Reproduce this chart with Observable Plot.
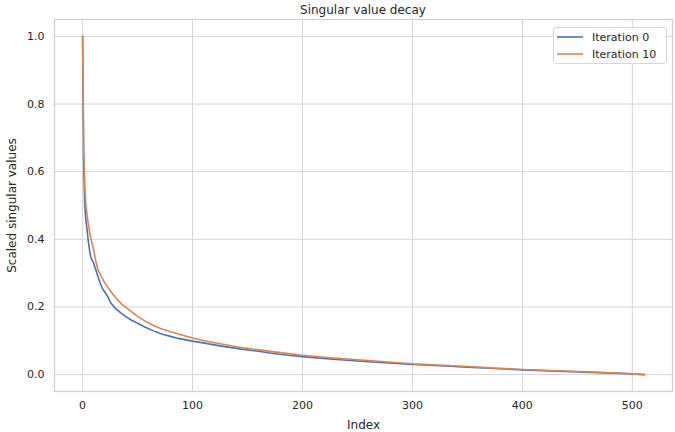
<!DOCTYPE html>
<html>
<head>
<meta charset="utf-8">
<script src="https://cdn.jsdelivr.net/npm/d3@7"></script>
<script src="https://cdn.jsdelivr.net/npm/@observablehq/plot@0.6"></script>
<style>
  html, body { margin: 0; padding: 0; background: #fff; }
  body { font-family: "DejaVu Sans", sans-serif; }
  #wrap { position: relative; width: 675px; height: 432px; }
  #title { height: 17px; line-height: 20px; font-size: 12px; color: #262626; text-align: center; margin-left: 54px; width: 618px; }
  #legend { position: absolute; left: 553px; top: 27px; width: 114px; height: 37px; box-sizing: border-box;
            border: 1px solid #d6d6d6; border-radius: 3px; background: rgba(255,255,255,0.85); font-size: 11px; color: #262626; }
  .entry { position: absolute; left: 3px; height: 14px; display: flex; align-items: center; }
  .entry svg { margin-right: 9px; }
</style>
</head>
<body>
<div id="wrap">
  <div id="title">Singular value decay</div>
  <div id="chart"></div>
  <div id="legend"></div>
</div>
<script>
const seriesNames = ["Iteration 0", "Iteration 10"];
const seriesColors = ["#4c72b0", "#dd8452"];

const iter0Index = [0,1,2,3,4,5,6,7,8,10,12,14,16,18,20,23,26,30,35,40,45,50,57,64,72,80,87,100,111,125,143,160,170,185,200,225,250,275,300,325,350,375,400,425,450,475,500,511];
const iter0Value = [1.0,0.62,0.50,0.455,0.43,0.40,0.375,0.355,0.342,0.33,0.31,0.29,0.27,0.255,0.245,0.23,0.21,0.195,0.182,0.17,0.16,0.152,0.14,0.13,0.12,0.113,0.107,0.099,0.093,0.085,0.076,0.069,0.064,0.058,0.053,0.046,0.040,0.035,0.030,0.026,0.022,0.018,0.014,0.011,0.008,0.005,0.002,0.0];

const iter10Index = [0,1,2,3,4,5,6,7,8,10,12,14,17,20,23,27,31,36,40,45,51,57,64,72,80,87,100,111,125,143,160,180,200,225,250,275,300,325,350,375,400,425,450,475,500,511];
const iter10Value = [1.0,0.66,0.56,0.50,0.475,0.45,0.43,0.41,0.396,0.37,0.335,0.31,0.29,0.272,0.258,0.24,0.224,0.207,0.197,0.185,0.17,0.158,0.146,0.135,0.127,0.12,0.108,0.10,0.091,0.081,0.073,0.065,0.057,0.05,0.044,0.038,0.032,0.028,0.024,0.019,0.015,0.012,0.009,0.006,0.002,0.0];

const xTicks = [0, 100, 200, 300, 400, 500];
const yTicks = [0.0, 0.2, 0.4, 0.6, 0.8, 1.0];

const data = [
  ...iter0Index.map((i, k) => ({index: i, value: iter0Value[k], series: seriesNames[0]})),
  ...iter10Index.map((i, k) => ({index: i, value: iter10Value[k], series: seriesNames[1]}))
];

const chart = Plot.plot({
  width: 675,
  height: 415,
  marginTop: 2,
  marginBottom: 41,
  marginLeft: 54,
  marginRight: 3,
  style: { fontFamily: "DejaVu Sans, sans-serif", fontSize: "11px", color: "#262626", background: "#fff" },
  x: { domain: [-25.55, 536.55] },
  y: { domain: [-0.05, 1.05] },
  color: { domain: seriesNames, range: seriesColors },
  marks: [
    Plot.gridX(xTicks, { stroke: "#d5d5d5", strokeOpacity: 1, strokeWidth: 1 }),
    Plot.gridY(yTicks, { stroke: "#d5d5d5", strokeOpacity: 1, strokeWidth: 1 }),
    Plot.frame({ stroke: "#d0d0d0", strokeWidth: 1.25 }),
    Plot.axisX(xTicks, { tickSize: 0, tickPadding: 10, label: "Index", labelAnchor: "center", labelArrow: "none", labelOffset: 37, fontSize: 11 }),
    Plot.axisY(yTicks, { tickSize: 0, tickPadding: 10, tickFormat: d => d.toFixed(1), label: "Scaled singular values", labelAnchor: "center", labelArrow: "none", labelOffset: 47, fontSize: 11 }),
    Plot.line(data, { x: "index", y: "value", stroke: "series", z: "series", strokeWidth: 1.6 })
  ]
});
d3.select(chart).selectAll("[aria-label$='axis label'] text, [aria-label$='axis label']").style("font-size", "12px");
document.getElementById("chart").appendChild(chart);

const legend = document.getElementById("legend");
seriesNames.forEach((name, k) => {
  const e = document.createElement("div");
  e.className = "entry";
  e.style.top = (k === 0 ? 2 : 19) + "px";
  e.innerHTML = `<svg width="26" height="4"><line x1="0" y1="2" x2="26" y2="2" stroke="${seriesColors[k]}" stroke-width="1.6"/></svg><span>${name}</span>`;
  legend.appendChild(e);
});
</script>
</body>
</html>
